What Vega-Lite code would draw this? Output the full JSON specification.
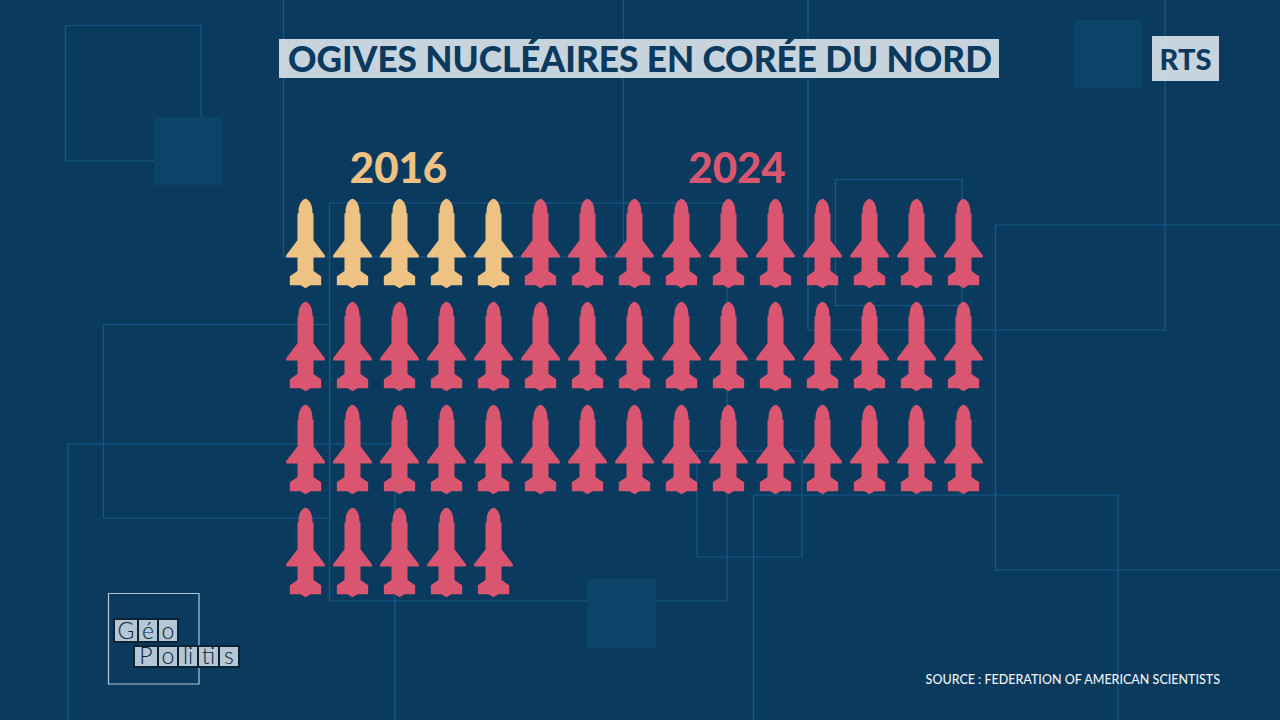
{"$schema":"https://vega.github.io/schema/vega-lite/v6.json","width":1280,"height":720,"autosize":{"type":"fit","contains":"padding"},"padding":0,"background":"#0a3a5e","view":{"stroke":null},"config":{"axis":{"grid":false}},
"encoding":{"x":{"field":"x","type":"quantitative","scale":{"domain":[0,1280]},"axis":null},"y":{"field":"y","type":"quantitative","scale":{"domain":[720,0]},"axis":null}},
"resolve":{"scale":{"x":"independent","y":"independent"}},
"layer":[
{"data":{"values":[{"x":65.5,"y":25.5,"x2":201,"y2":161},{"x":283.5,"y":-10,"x2":623.5,"y2":257},{"x":808,"y":-10,"x2":1165,"y2":330},{"x":329.5,"y":203,"x2":727,"y2":601},{"x":835.5,"y":179.5,"x2":962,"y2":305.5},{"x":995.5,"y":225,"x2":1300,"y2":570},{"x":103.5,"y":324.5,"x2":330,"y2":518},{"x":68,"y":444,"x2":395,"y2":740},{"x":697,"y":451,"x2":802,"y2":557},{"x":753.5,"y":495,"x2":1118,"y2":740}]},
"mark":{"type":"rect","fillOpacity":0,"stroke":"#17588a","strokeWidth":1.2,"clip":true},"encoding":{"x2":{"field":"x2"},"y2":{"field":"y2"}}},
{"data":{"values":[{"x":154,"y":117,"x2":222,"y2":185},{"x":1074,"y":20,"x2":1142,"y2":88},{"x":587,"y":579,"x2":656,"y2":648}]},
"mark":{"type":"rect","fill":"#0b4468"},"encoding":{"x2":{"field":"x2"},"y2":{"field":"y2"}}},
{"data":{"values":[{"x":279,"y":39,"x2":999,"y2":78},{"x":1152,"y":36,"x2":1219,"y2":81}]},
"mark":{"type":"rect","fill":"#d3dce4","opacity":0.95},"encoding":{"x2":{"field":"x2"},"y2":{"field":"y2"}}},
{"data":{"values":[{"x":640,"y":61,"t":"OGIVES NUCLÉAIRES EN CORÉE DU NORD"}]},
"mark":{"type":"text","font":"Lato","fontWeight":900,"fontSize":35.2,"fill":"#0b3a5e","align":"center","baseline":"middle"},"encoding":{"text":{"field":"t"}}},
{"data":{"values":[{"x":1185.5,"y":60.5,"t":"RTS"}]},
"mark":{"type":"text","font":"Lato","fontWeight":900,"fontSize":29,"fill":"#0b3a5e","align":"center","baseline":"middle"},"encoding":{"text":{"field":"t"}}},
{"data":{"values":[{"x":398.5,"y":170,"t":"2016","c":"2016"},{"x":737,"y":170,"t":"2024","c":"2024"}]},
"mark":{"type":"text","font":"Lato","fontWeight":900,"fontSize":42,"align":"center","baseline":"middle"},"encoding":{"text":{"field":"t"},"color":{"field":"c","type":"nominal","scale":{"domain":["2016","2024"],"range":["#edc282","#da5670"]},"legend":null}}},
{"data":{"values":[
{"col":1,"row":1,"year":"2016"},{"col":2,"row":1,"year":"2016"},{"col":3,"row":1,"year":"2016"},{"col":4,"row":1,"year":"2016"},{"col":5,"row":1,"year":"2016"},
{"col":6,"row":1,"year":"2024"},{"col":7,"row":1,"year":"2024"},{"col":8,"row":1,"year":"2024"},{"col":9,"row":1,"year":"2024"},{"col":10,"row":1,"year":"2024"},{"col":11,"row":1,"year":"2024"},{"col":12,"row":1,"year":"2024"},{"col":13,"row":1,"year":"2024"},{"col":14,"row":1,"year":"2024"},{"col":15,"row":1,"year":"2024"},
{"col":1,"row":2,"year":"2024"},{"col":2,"row":2,"year":"2024"},{"col":3,"row":2,"year":"2024"},{"col":4,"row":2,"year":"2024"},{"col":5,"row":2,"year":"2024"},{"col":6,"row":2,"year":"2024"},{"col":7,"row":2,"year":"2024"},{"col":8,"row":2,"year":"2024"},{"col":9,"row":2,"year":"2024"},{"col":10,"row":2,"year":"2024"},{"col":11,"row":2,"year":"2024"},{"col":12,"row":2,"year":"2024"},{"col":13,"row":2,"year":"2024"},{"col":14,"row":2,"year":"2024"},{"col":15,"row":2,"year":"2024"},
{"col":1,"row":3,"year":"2024"},{"col":2,"row":3,"year":"2024"},{"col":3,"row":3,"year":"2024"},{"col":4,"row":3,"year":"2024"},{"col":5,"row":3,"year":"2024"},{"col":6,"row":3,"year":"2024"},{"col":7,"row":3,"year":"2024"},{"col":8,"row":3,"year":"2024"},{"col":9,"row":3,"year":"2024"},{"col":10,"row":3,"year":"2024"},{"col":11,"row":3,"year":"2024"},{"col":12,"row":3,"year":"2024"},{"col":13,"row":3,"year":"2024"},{"col":14,"row":3,"year":"2024"},{"col":15,"row":3,"year":"2024"},
{"col":1,"row":4,"year":"2024"},{"col":2,"row":4,"year":"2024"},{"col":3,"row":4,"year":"2024"},{"col":4,"row":4,"year":"2024"},{"col":5,"row":4,"year":"2024"}]},
"mark":{"type":"point","filled":true,"opacity":1,"shape":"M0 -0.99C0.09 -0.97 0.155 -0.85 0.155 -0.7L0.155 -0.66L0.178 -0.66L0.178 -0.067L0.43 0.267L0.43 0.318L0.178 0.318L0.178 0.615L0.348 0.733L0.348 0.933L0.11 0.933L0 1L-0.11 0.933L-0.348 0.933L-0.348 0.733L-0.178 0.615L-0.178 0.318L-0.43 0.318L-0.43 0.267L-0.178 -0.067L-0.178 -0.66L-0.155 -0.66L-0.155 -0.7C-0.155 -0.85 -0.09 -0.97 0 -0.99Z","size":8100},
"encoding":{"x":{"field":"col","type":"quantitative","scale":{"domain":[-5.5,21.734]},"axis":null},"y":{"field":"row","type":"quantitative","scale":{"domain":[-1.3615,5.6285],"range":[0,720]},"axis":null},"color":{"field":"year","type":"nominal","scale":{"domain":["2016","2024"],"range":["#edc282","#da5670"]},"legend":null}}},
{"data":{"values":[{"x":108.5,"y":593.5,"x2":199,"y2":684}]},
"mark":{"type":"rect","fillOpacity":0,"stroke":"#b5c6d4","strokeWidth":1.2},"encoding":{"x2":{"field":"x2"},"y2":{"field":"y2"}}},
{"data":{"values":[{"x":114,"y":619,"x2":138,"y2":642},{"x":138,"y":619,"x2":158,"y2":642},{"x":158,"y":619,"x2":178,"y2":642},{"x":134,"y":646,"x2":158,"y2":667},{"x":158,"y":646,"x2":178,"y2":667},{"x":178,"y":646,"x2":198,"y2":667},{"x":198,"y":646,"x2":219,"y2":667},{"x":219,"y":646,"x2":239,"y2":667}]},
"mark":{"type":"rect","fill":"#b5c6d4","stroke":"#0a2436","strokeWidth":2},"encoding":{"x2":{"field":"x2"},"y2":{"field":"y2"}}},
{"data":{"values":[{"x":126,"y":631.5,"t":"G"},{"x":148,"y":631.5,"t":"é"},{"x":168,"y":631.5,"t":"o"},{"x":146,"y":657,"t":"P"},{"x":168,"y":657,"t":"o"},{"x":188,"y":657,"t":"li"},{"x":208.5,"y":657,"t":"ti"},{"x":229,"y":657,"t":"s"}]},
"mark":{"type":"text","font":"Lato","fontWeight":300,"fontSize":23,"fill":"#0a2436","align":"center","baseline":"middle"},"encoding":{"text":{"field":"t"}}},
{"data":{"values":[{"x":1220,"y":680,"t":"SOURCE : FEDERATION OF AMERICAN SCIENTISTS"}]},
"mark":{"type":"text","font":"Lato","fontWeight":500,"fontSize":12.5,"fill":"#eef2f5","align":"right","baseline":"middle"},"encoding":{"text":{"field":"t"}}}
]}
